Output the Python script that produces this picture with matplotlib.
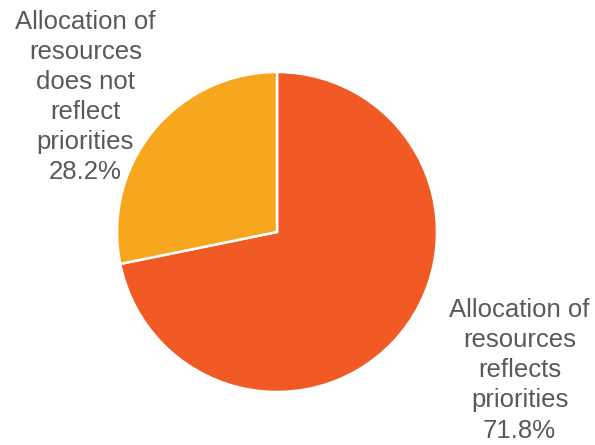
import matplotlib

matplotlib.use("Agg")
import matplotlib.pyplot as plt

categories = ["Allocation of\nresources\nreflects\npriorities",
              "Allocation of\nresources\ndoes not\nreflect\npriorities"]
shares = [71.8, 28.2]
colors = ["#F15A24", "#F7A71E"]

# label centres in data units (pie radius = 1)
label_pos = [(1.516, -0.865), (-1.197, 0.845)]

plt.rcParams["font.family"] = ["Liberation Sans", "DejaVu Sans"]

fig = plt.figure(figsize=(5.95, 4.45), dpi=100)
ax = fig.add_axes([117 / 595, 53 / 445, 320 / 595, 320 / 445])

wedges, texts = ax.pie(
    shares,
    colors=colors,
    startangle=90,
    counterclock=False,
    radius=1,
    labels=[f"{c}\n{v:.1f}%" for c, v in zip(categories, shares)],
    wedgeprops=dict(edgecolor="white", linewidth=1.8),
    textprops=dict(fontsize=18.5, color="#595959", ha="center", va="center",
                   multialignment="center", linespacing=1.32),
)
for t, pos in zip(texts, label_pos):
    t.set_position(pos)
    t.set_ha("center")
    t.set_va("center")

ax.set_xlim(-1, 1)
ax.set_ylim(-1, 1)
ax.set_aspect("auto")
ax.axis("off")

fig.savefig("out.png", dpi=100)
